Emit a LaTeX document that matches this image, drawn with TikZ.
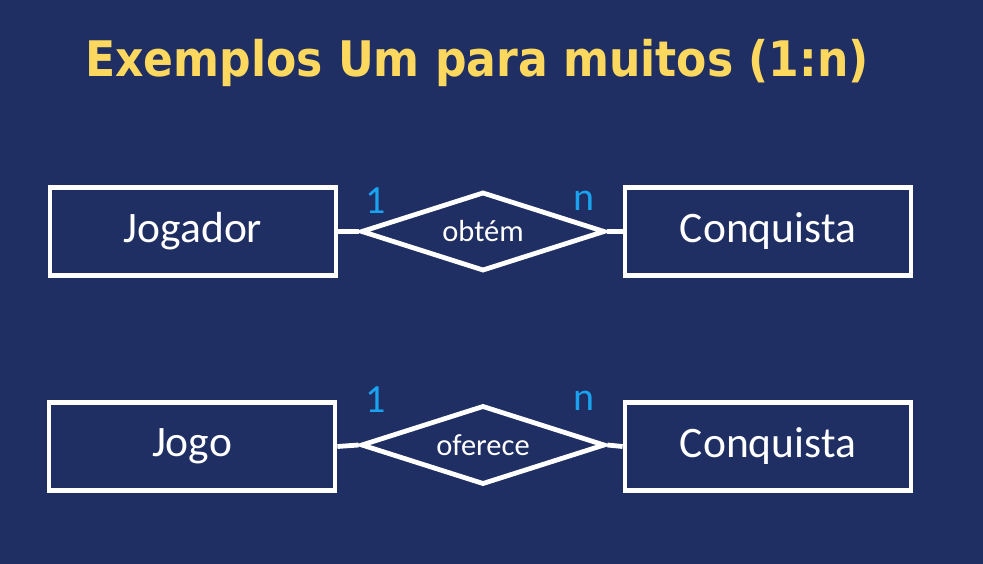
\documentclass[tikz,border=0pt]{standalone}
\usepackage{fontspec}
\setmainfont{Carlito}
\newfontfamily\titlefont{DejaVu Sans Condensed}
\usetikzlibrary{shapes.geometric}
\definecolor{bgblue}{HTML}{1F2E63}
\definecolor{titleyellow}{HTML}{FDD85E}
\definecolor{cardblue}{HTML}{1AA3EE}
\tikzset{
  entity/.style={draw=white, line width=4.8pt, minimum width=286pt, minimum height=88pt, inner sep=0pt, text=white, font=\fontsize{43.5}{48}\selectfont},
  relation/.style={draw=white, line width=4.8pt, diamond, aspect=3.03, minimum width=244pt, minimum height=79pt, inner sep=0pt, text=white, font=\fontsize{30.5}{34}\selectfont},
  card/.style={text=cardblue, font=\fontsize{40}{44}\selectfont, inner sep=0pt},
  link/.style={draw=white, line width=4.8pt}
}
\begin{document}
\begin{tikzpicture}[x=1pt,y=-1pt]
\useasboundingbox (0,0) rectangle (983,564);
\fill[bgblue] (0,0) rectangle (983,564);
\node[text=titleyellow, font=\titlefont\bfseries\fontsize{49}{55}\selectfont, inner sep=0pt] (title) at (477,63) {Exemplos Um para muitos (1:n)};
% row 1
\node[entity] (jogador) at (193,231.5) {Jogador};
\node[relation] (obtem) at (483,231.5) {obtém};
\node[entity] (conq1) at (768,231.5) {Conquista};
\draw[link] (jogador.east) -- (obtem.west);
\draw[link] (obtem.east) -- (conq1.west);
\node[card] (c1a) at (376,201) {1};
\node[card] (c1b) at (584,201) {n};
% row 2
\node[entity] (jogo) at (192,446.5) {Jogo};
\node[relation] (oferece) at (483,445) {oferece};
\node[entity] (conq2) at (768,446.5) {Conquista};
\draw[link] (jogo.east) -- (oferece.west);
\draw[link] (oferece.east) -- (conq2.west);
\node[card] (c2a) at (376,400) {1};
\node[card] (c2b) at (584,401) {n};
\end{tikzpicture}
\end{document}
